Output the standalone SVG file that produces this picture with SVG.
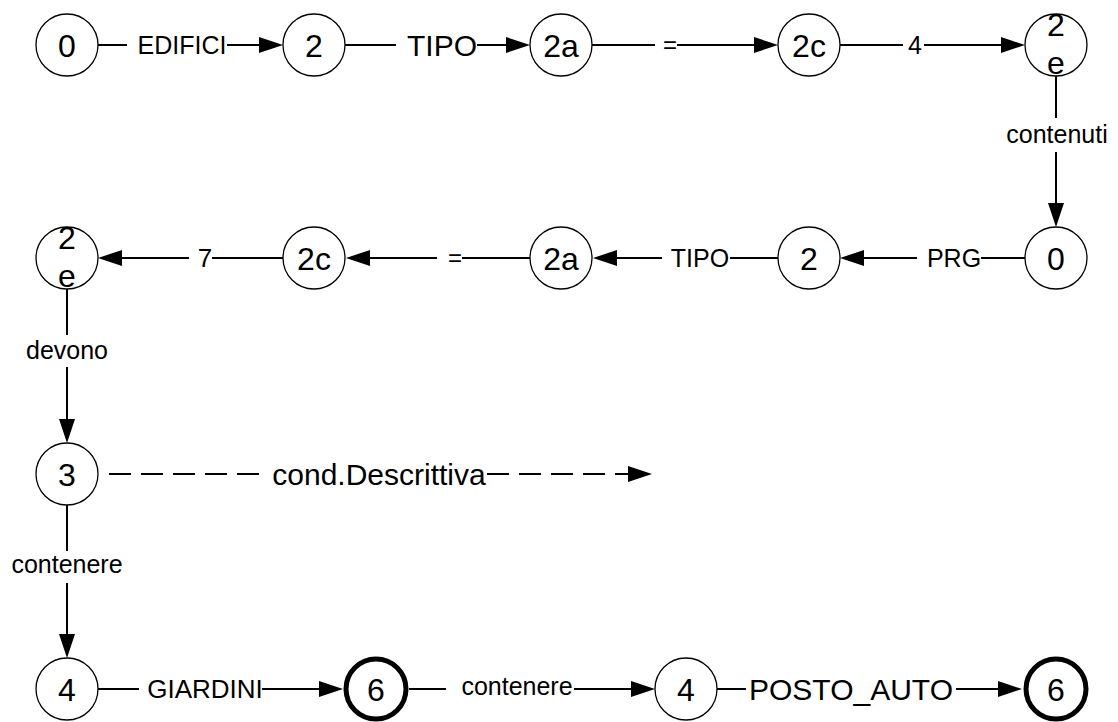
<svg xmlns="http://www.w3.org/2000/svg" width="1118" height="722" viewBox="0 0 1118 722">
  <style>
    .node { fill: #fff; stroke: #000; stroke-width: 1.3; }
    .final { fill: #fff; stroke: #000; stroke-width: 5; }
    .nlabel { font-family: "Liberation Sans", Arial, sans-serif; font-size: 32px; fill: #000; text-anchor: middle; }
    .edge { fill: none; stroke: #000; stroke-width: 2; marker-end: url(#arrow); }
    .dashed { stroke-dasharray: 22 10; }
    .elabel { font-family: "Liberation Sans", Arial, sans-serif; fill: #000; text-anchor: middle; }
  </style>
  <defs>
    <marker id="arrow" viewBox="0 0 24 16" refX="20" refY="8" markerWidth="24" markerHeight="16" orient="auto" markerUnits="userSpaceOnUse">
      <path d="M0,0 L24,8 L0,16 z" fill="#000"/>
    </marker>
  </defs>

  <rect width="1118" height="722" fill="#fff"/>

  <!-- connectors: each path is split where its label sits -->
  <g id="connectors">
    <!-- row 1 -->
    <path class="edge" d="M98,45 H127 M227,45 H279"/>
    <path class="edge" d="M345,45 H396 M477,45 H526"/>
    <path class="edge" d="M592,45 H655 M677,45 H774"/>
    <path class="edge" d="M840,45 H903 M924,45 H1021"/>
    <!-- down the right side -->
    <path class="edge" d="M1056,76 V118 M1056,152 V223"/>
    <!-- row 2, right to left -->
    <path class="edge" d="M1025,258 H981 M917,258 H844"/>
    <path class="edge" d="M778,258 H730 M662,258 H597"/>
    <path class="edge" d="M530,258 H462 M437,258 H350"/>
    <path class="edge" d="M283,258 H212 M189,258 H102"/>
    <!-- down the left side -->
    <path class="edge" d="M67,289 V335 M67,367 V439"/>
    <path class="edge" d="M67,505 V551 M67,583 V654"/>
    <!-- descriptive condition, dashed -->
    <path class="edge dashed" d="M109,474 H259 M487,474 H648"/>
    <!-- row 4 -->
    <path class="edge" d="M98,689 H139 M262,689 H339"/>
    <path class="edge" d="M409,689 H446 M574,689 H651"/>
    <path class="edge" d="M717,689 H746 M956,689 H1018"/>
  </g>

  <g id="edge-labels">
    <text class="elabel" x="182" y="54" font-size="25">EDIFICI</text>
    <text class="elabel" x="442" y="56" font-size="30">TIPO</text>
    <text class="elabel" x="670" y="53" font-size="24">=</text>
    <text class="elabel" x="915" y="54" font-size="25">4</text>
    <text class="elabel" x="1057" y="143" font-size="25">contenuti</text>
    <text class="elabel" x="954" y="267" font-size="25">PRG</text>
    <text class="elabel" x="700" y="267" font-size="25">TIPO</text>
    <text class="elabel" x="455" y="266" font-size="24">=</text>
    <text class="elabel" x="205" y="267" font-size="26">7</text>
    <text class="elabel" x="67" y="359" font-size="25">devono</text>
    <text class="elabel" x="379" y="485" font-size="30">cond.Descrittiva</text>
    <text class="elabel" x="67" y="573" font-size="25">contenere</text>
    <text class="elabel" x="205" y="698" font-size="26">GIARDINI</text>
    <text class="elabel" x="517" y="695" font-size="25">contenere</text>
    <text class="elabel" x="851" y="700" font-size="30">POSTO_AUTO</text>
  </g>

  <!-- states, row 1 -->
  <g id="s0-top"><circle class="node" cx="67" cy="45" r="31"/><text class="nlabel" x="67" y="56.5">0</text></g>
  <g id="s2-top"><circle class="node" cx="314" cy="45" r="31"/><text class="nlabel" x="314" y="56.5">2</text></g>
  <g id="s2a-top"><circle class="node" cx="561" cy="45" r="31"/><text class="nlabel" x="561" y="56.5">2a</text></g>
  <g id="s2c-top"><circle class="node" cx="809" cy="45" r="31"/><text class="nlabel" x="809" y="56.5">2c</text></g>
  <g id="s2e-top"><circle class="node" cx="1056" cy="45" r="31" stroke-width="1"/><text class="nlabel" x="1056" y="36">2</text><text class="nlabel" x="1056" y="74">e</text></g>

  <!-- states, row 2 -->
  <g id="s0-mid"><circle class="node" cx="1056" cy="258" r="31"/><text class="nlabel" x="1056" y="269.5">0</text></g>
  <g id="s2-mid"><circle class="node" cx="809" cy="258" r="31"/><text class="nlabel" x="809" y="269.5">2</text></g>
  <g id="s2a-mid"><circle class="node" cx="561" cy="258" r="31"/><text class="nlabel" x="561" y="269.5">2a</text></g>
  <g id="s2c-mid"><circle class="node" cx="314" cy="258" r="31"/><text class="nlabel" x="314" y="269.5">2c</text></g>
  <g id="s2e-mid"><circle class="node" cx="67" cy="258" r="31" stroke-width="1"/><text class="nlabel" x="67" y="249">2</text><text class="nlabel" x="67" y="287">e</text></g>

  <!-- row 3 -->
  <g id="s3"><circle class="node" cx="67" cy="474" r="31"/><text class="nlabel" x="67" y="485.5">3</text></g>

  <!-- row 4 -->
  <g id="s4-a"><circle class="node" cx="67" cy="689" r="31"/><text class="nlabel" x="67" y="700.5">4</text></g>
  <g id="s6-a"><circle class="final" cx="376" cy="689" r="30"/><text class="nlabel" x="376" y="700.5">6</text></g>
  <g id="s4-b"><circle class="node" cx="686" cy="689" r="31"/><text class="nlabel" x="686" y="700.5">4</text></g>
  <g id="s6-b"><circle class="final" cx="1056" cy="689" r="30"/><text class="nlabel" x="1056" y="700.5">6</text></g>
</svg>
